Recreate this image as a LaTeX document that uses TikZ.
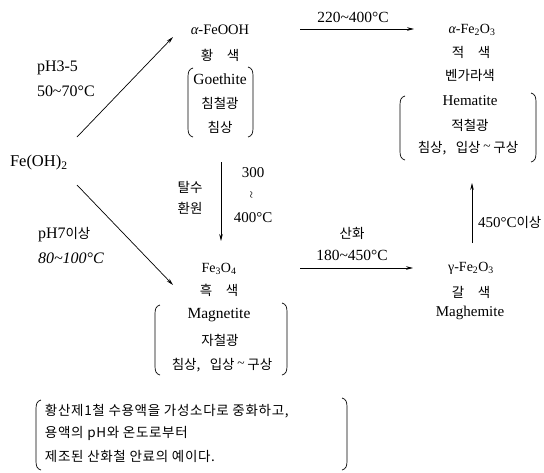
\documentclass[tikz,border=0pt]{standalone}
\usepackage{fontspec}
\setmainfont{Liberation Serif}
\newfontfamily\kr{Noto Sans CJK KR}
\newfontfamily\krsp[LetterSpace=5]{Noto Sans CJK KR}
\usetikzlibrary{arrows.meta}
\newcommand\mytl{\textasciitilde}
\newcommand\krtl{\hspace{0.2em}\raisebox{1.5pt}{\rmfamily\mytl}\hspace{0.2em}}
\newcommand\lbrk[3]{\draw[brk] (#1+5,#2) .. controls (#1+1,#2+1) and (#1,#2+4) .. (#1,#2+9) -- (#1,#3-9) .. controls (#1,#3-4) and (#1+1,#3-1) .. (#1+5,#3);}
\newcommand\rbrk[3]{\draw[brk] (#1-5,#2) .. controls (#1-1,#2+1) and (#1,#2+4) .. (#1,#2+9) -- (#1,#3-9) .. controls (#1,#3-4) and (#1-1,#3-1) .. (#1-5,#3);}
\begin{document}
\begin{tikzpicture}[x=1pt,y=-1pt,
  every node/.style={inner sep=0pt, outer sep=0pt},
  lat/.style={font=\fontsize{#1}{#1}\selectfont},
  lat/.default=14,
  ko/.style={font=\kr\fontsize{13.5}{15}\selectfont},
  kosp/.style={font=\krsp\fontsize{13.5}{15}\selectfont},
  arr/.style={line width=0.7pt, -{Stealth[length=7pt,width=3.6pt]}},
  brk/.style={line width=0.7pt}]
\useasboundingbox (0,0) rectangle (544,472);

% left column: alpha-FeOOH
\node[lat=14.5] (feooh) at (220,30) {{\itshape α}-FeOOH};
\node[ko] (hwang) at (220,55) {황\hspace{1em}색};
\node[lat=15.5] (goe) at (220,79) {Goethite};
\node[ko] (chimch) at (220,103) {침철광};
\node[ko] (chims) at (220,127) {침상};
\lbrk{188}{68}{137}
\rbrk{253}{67}{137}

% right column: alpha-Fe2O3
\node[lat=14] (hemaf) at (472,30) {{\itshape α}-Fe\textsubscript{2}O\textsubscript{3}};
\node[ko] (jeok) at (471,52) {적\hspace{1em}색};
\node[ko] (beng) at (470,75) {벤가라색};
\node[lat=15] (hema) at (470,101) {Hematite};
\node[ko] (jeokch) at (470,125) {적철광};
\node[ko] (hemas) at (468,148) {침상,\hspace{0.7em}입상\krtl 구상};
\lbrk{400}{96}{160}
\rbrk{536}{93}{162}

% Fe(OH)2 and conditions
\node[lat=16.5, anchor=west] (feoh) at (10,163) {Fe(OH)\textsubscript{2}};
\node[lat=16, anchor=west] (ph35) at (37,68) {pH3-5};
\node[lat=16, anchor=west] (t5070) at (37,91) {50\mytl 70°C};
\node[lat=16, anchor=west] (ph7) at (38,235) {pH7{\kr\fontsize{13.5}{15}\selectfont 이상}};
\node[lat=16, anchor=west] (t80) at (38,258) {\itshape 80\mytl 100°C};

% arrows from Fe(OH)2
\coordinate (a1s) at (77,137);
\coordinate (a1e) at (173,37);
\coordinate (a2s) at (77,185);
\coordinate (a2e) at (173,285);
\draw[arr] (a1s) -- (a1e);
\draw[arr] (a2s) -- (a2e);

% top horizontal arrow
\node[lat=15.5] (t220) at (353,17) {220\mytl 400°C};
\coordinate (a3s) at (300,29);
\coordinate (a3e) at (414,29);
\draw[arr] (a3s) -- (a3e);

% vertical arrow FeOOH -> Fe3O4
\coordinate (a4s) at (221,162);
\coordinate (a4e) at (221,241);
\draw[arr] (a4s) -- (a4e);
\node[ko] (talsu) at (190,187) {탈수};
\node[ko] (hwanwon) at (190,208) {환원};
\node[lat=15] (t300) at (253,173) {300};
\node[lat=13, rotate=90] (tsep) at (253,195) {\mytl};
\node[lat=15] (t400) at (253,218) {400°C};

% Fe3O4
\node[lat=14] (fe3o4) at (219,269) {Fe\textsubscript{3}O\textsubscript{4}};
\node[ko] (heuk) at (219,290) {흑\hspace{1em}색};
\node[lat=15.5] (magn) at (219,315) {Magnetite};
\node[ko] (jach) at (220,340) {자철광};
\node[ko] (magns) at (222,365) {침상,\hspace{0.7em}입상\krtl 구상};
\lbrk{155}{305}{375}
\rbrk{287}{303}{375}

% oxidation arrow
\node[ko] (sanhwa) at (352,233) {산화};
\node[lat=15.5] (t180) at (352,255) {180\mytl 450°C};
\coordinate (a5s) at (300,268);
\coordinate (a5e) at (413,268);
\draw[arr] (a5s) -- (a5e);

% gamma-Fe2O3
\node[lat=14] (gam) at (471,268) {γ-Fe\textsubscript{2}O\textsubscript{3}};
\node[ko] (gal) at (471,292) {갈\hspace{1em}색};
\node[lat=15] (maghe) at (470,313) {Maghemite};

% up arrow
\coordinate (a6s) at (472,243);
\coordinate (a6e) at (472,183);
\draw[arr] (a6s) -- (a6e);
\node[lat=15, anchor=west] (t450) at (478,222) {450°C{\kr\fontsize{13.5}{15}\selectfont 이상}};

% bottom note
\node[kosp, anchor=west] (n1) at (45,411) {황산제1철 수용액을 가성소다로 중화하고,};
\node[kosp, anchor=west] (n2) at (45,433) {용액의 pH와 온도로부터};
\node[kosp, anchor=west] (n3) at (45,456) {제조된 산화철 안료의 예이다.};
\lbrk{36}{400}{470}
\rbrk{347}{398}{470}
\end{tikzpicture}
\end{document}
